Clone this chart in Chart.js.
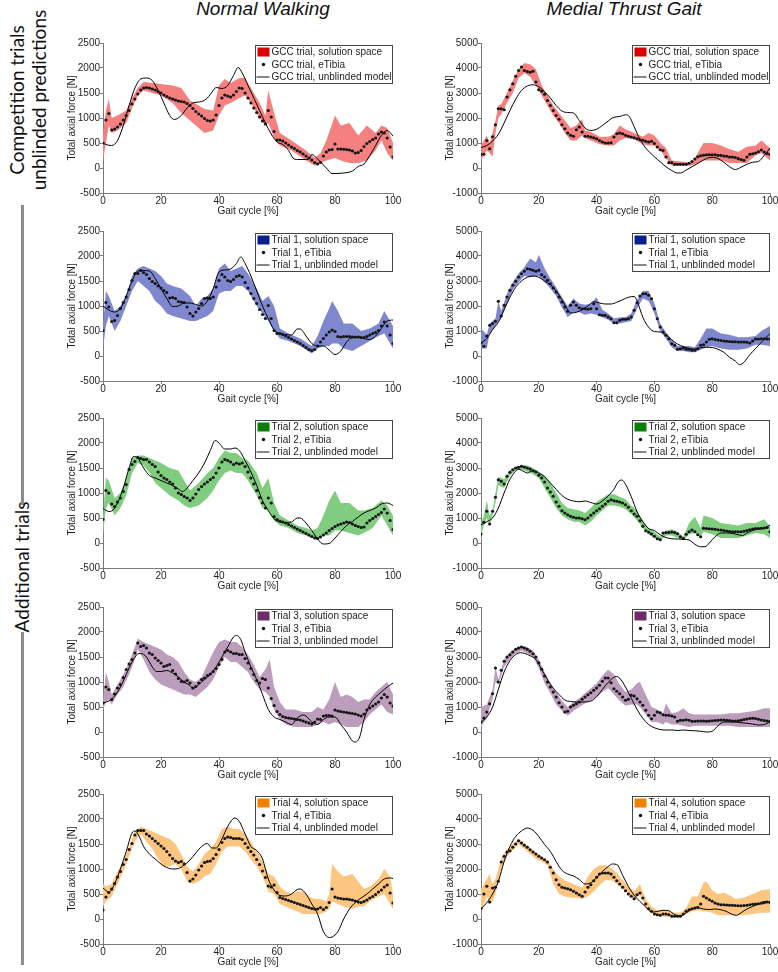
<!DOCTYPE html>
<html lang="en">
<head>
<meta charset="utf-8">
<title>Total axial force - solution spaces</title>
<script src="https://cdn.jsdelivr.net/npm/chart.js@4.4.1/dist/chart.umd.min.js"></script>
<style>
  html, body { margin: 0; padding: 0; background: #fff; }
  body { position: relative; width: 778px; height: 972px; overflow: hidden; }
  canvas.panel { position: absolute; }
  .col-title { position: absolute; top: -2px; transform: translateX(-50%); font: italic 19px "Liberation Sans", Arial, sans-serif; color: #111; white-space: nowrap; }
  .side-label { position: absolute; transform: translate(-50%, -50%) rotate(-90deg); font: 19px Lato, "Open Sans", sans-serif; color: #111; white-space: nowrap; line-height: 22px; text-align: center; }
  .side-rule { position: absolute; left: 21px; width: 3px; background: #8c8c8c; }
</style>
</head>
<body>
<div class="col-title" style="left:263px">Normal Walking</div>
<div class="col-title" style="left:624px">Medial Thrust Gait</div>
<div class="side-label" style="left:28px; top:100px">Competition trials<br>unblinded predictions</div>
<div class="side-rule" style="top:205px; height:300px"></div>
<div class="side-label" style="left:22px; top:567px">Additional trials</div>
<div class="side-rule" style="top:632px; height:333px"></div>
<script>
const FONT = '"Liberation Sans", Arial, sans-serif';

// ticks
const gaitTicks = [0, 20, 40, 60, 80, 100];
const normalTicks = [-500, 0, 500, 1000, 1500, 2000, 2500];
const thrustTicks = [-1000, 0, 1000, 2000, 3000, 4000, 5000];

// eTibia samples are at every percent of the gait cycle
const gaitPct = [0, 1, 2, 3, 4, 5, 6, 7, 8, 9, 10, 11, 12, 13, 14, 15, 16, 17, 18, 19, 20,
  21, 22, 23, 24, 25, 26, 27, 28, 29, 30, 31, 32, 33, 34, 35, 36, 37, 38, 39, 40,
  41, 42, 43, 44, 45, 46, 47, 48, 49, 50, 51, 52, 53, 54, 55, 56, 57, 58, 59, 60,
  61, 62, 63, 64, 65, 66, 67, 68, 69, 70, 71, 72, 73, 74, 75, 76, 77, 78, 79, 80,
  81, 82, 83, 84, 85, 86, 87, 88, 89, 90, 91, 92, 93, 94, 95, 96, 97, 98, 99, 100];

// ---- Normal walking, GCC trial
const nwGccDots = [500, 960, 1090, 760, 780, 820, 880, 960, 1050, 1150,
  1280, 1380, 1480, 1560, 1600, 1610, 1600, 1580, 1560, 1530,
  1500, 1460, 1430, 1400, 1380, 1360, 1340, 1330, 1320, 1290,
  1250, 1190, 1130, 1080, 1040, 990, 950, 940, 960, 1060,
  1250, 1400, 1460, 1440, 1420, 1460, 1530, 1600, 1590, 1500,
  1400, 1300, 1200, 1110, 1020, 940, 880, 1150, 1020, 730,
  560, 560, 540, 500, 460, 420, 390, 350, 320, 280,
  240, 200, 160, 110, 80, 110, 240, 320, 360, 370,
  480, 380, 380, 375, 370, 360, 340, 300, 310, 350,
  430, 490, 530, 570, 600, 680, 720, 700, 600, 420, 220];
const nwGccBandX = [0, 1, 2, 3, 5, 8, 10, 12, 14, 17, 20, 24, 27, 30, 33, 35, 38, 40, 42, 44, 47, 49, 51, 54, 56, 57, 59, 61, 65, 70, 73, 75, 77, 80, 82, 85, 88, 91, 94, 96, 98, 100];
const nwGccBandHi = [700, 1150, 1380, 1000, 1050, 1150, 1400, 1600, 1720, 1700, 1680, 1650, 1600, 1350, 1250, 1180, 1150, 1650, 1780, 1700, 1800, 1800, 1600, 1300, 1050, 1550, 1100, 700, 550, 350, 200, 300, 550, 1050, 850, 900, 650, 850, 700, 850, 800, 500];
const nwGccBandLo = [150, 500, 850, 700, 750, 900, 1200, 1450, 1550, 1500, 1450, 1300, 1100, 950, 800, 700, 750, 1050, 1250, 1300, 1400, 1450, 1300, 1000, 850, 900, 600, 450, 350, 150, 50, 100, 150, 200, 150, 100, 100, 150, 350, 550, 300, 150];
const nwGccModelX = [0, 1, 3, 5, 7, 9, 11, 13, 15, 17, 19, 21, 23, 24.6, 27, 29, 31, 34, 36, 38, 39, 41, 43, 45, 46.6, 48, 50, 52, 54, 56, 58, 60, 62, 64, 65.5, 67, 69, 71, 72, 74, 77, 79, 83, 86, 88, 90, 92, 94, 96, 98, 100];
const nwGccModelY = [500, 470, 450, 550, 850, 1250, 1600, 1780, 1800, 1750, 1550, 1300, 1050, 970, 1050, 1200, 1300, 1330, 1400, 1550, 1610, 1590, 1650, 1850, 2010, 1900, 1650, 1400, 1150, 900, 680, 520, 470, 350, 200, 170, 170, 180, 270, 180, 0, -110, -100, -60, 30, 80, 250, 450, 650, 750, 640];

// ---- Medial thrust, GCC trial
const mtGccDots = [550, 550, 1100, 770, 1250, 1730, 2370, 2370, 2330, 2840,
  3130, 3370, 3670, 3900, 4040, 3900, 3860, 3830, 3870, 3440,
  3130, 3070, 2950, 2700, 2500, 2300, 2100, 1950, 1730, 1570,
  1400, 1310, 1270, 1530, 1640, 1440, 1270, 1270, 1240, 1210,
  1170, 1100, 1040, 1000, 1000, 1010, 1240, 1370, 1400, 1370,
  1310, 1270, 1240, 1210, 1170, 1130, 1110, 1070, 1040, 1070,
  980, 840, 730, 700, 440, 213, 213, 147, 147, 147,
  147, 147, 190, 260, 360, 450, 490, 510, 530, 530,
  530, 530, 507, 507, 480, 470, 440, 440, 420, 373,
  340, 307, 440, 547, 570, 600, 650, 720, 640, 580, 540];
const mtGccBandX = [0, 2, 3, 4, 5, 6, 7, 9, 11, 13, 15, 17, 19, 21, 23, 25, 27, 29, 31, 33, 35, 36, 38, 41, 44, 46, 48, 50, 53, 56, 58, 60, 62, 64, 66, 70, 73, 75, 77, 80, 83, 86, 89, 92, 95, 97, 100];
const mtGccBandHi = [900, 1300, 1000, 1400, 1900, 2500, 2550, 3000, 3500, 3950, 4200, 4150, 3950, 3300, 2900, 2500, 2200, 1900, 1600, 1700, 1950, 1500, 1450, 1250, 1250, 1350, 1700, 1550, 1400, 1250, 1400, 1300, 1000, 800, 300, 250, 200, 600, 1000, 1000, 900, 750, 650, 850, 900, 1100, 800];
const mtGccBandLo = [300, 700, 600, 450, 1400, 2000, 2150, 2600, 3000, 3600, 3800, 3650, 3300, 2900, 2500, 2100, 1800, 1400, 1100, 1100, 1300, 1200, 1100, 950, 900, 900, 1100, 1200, 1150, 950, 900, 900, 700, 400, 100, 100, 100, 200, 300, 300, 300, 200, 200, 200, 500, 600, 300];
const mtGccModelX = [0, 2, 4, 6, 8, 10, 12, 14, 16, 18, 20, 22, 24, 26, 28, 30, 32, 34, 36, 38, 40, 42, 44, 46, 48, 50, 51, 53, 55, 57, 60, 62, 64, 66, 68, 69, 71, 73, 76, 78, 80, 82, 84, 86, 88, 90, 92, 94, 96, 98, 100];
const mtGccModelY = [820, 900, 1080, 1350, 1800, 2300, 2750, 3100, 3280, 3330, 3250, 3050, 2800, 2500, 2280, 2220, 2200, 1900, 1600, 1500, 1550, 1700, 1880, 2030, 2060, 2130, 2100, 1650, 1150, 800, 450, 250, 50, -100, -200, -200, -80, 50, 250, 380, 430, 380, 230, 50, -60, 30, 150, 230, 260, 500, 800];

// ---- Normal walking, Trial 1
const nwT1Dots = [510, 1070, 980, 690, 710, 810, 950, 1070, 1180, 1330,
  1510, 1650, 1650, 1710, 1670, 1630, 1550, 1490, 1450, 1400,
  1360, 1310, 1270, 1160, 1170, 1150, 1090, 1080, 1070, 980,
  850, 800, 880, 950, 1050, 1150, 1160, 1150, 1180, 1380,
  1510, 1630, 1580, 1510, 1490, 1530, 1590, 1610, 1580, 1470,
  1360, 1250, 1150, 1050, 930, 830, 750, 1010, 750, 510,
  450, 450, 430, 400, 370, 340, 310, 280, 250, 210,
  170, 130, 110, 130, 200, 280, 350, 420, 480, 520,
  490, 390, 380, 390, 390, 390, 380, 380, 380, 370,
  370, 390, 420, 450, 470, 510, 600, 680, 600, 420, 250];
const nwT1BandX = [0, 1, 2, 4, 6, 8, 10, 12, 14, 16, 18, 20, 22, 24, 27, 30, 32, 34, 36, 38, 40, 42, 44, 46, 48, 50, 53, 55, 57, 59, 61, 64, 68, 72, 74, 76, 78, 79, 81, 83, 86, 89, 92, 95, 97, 100];
const nwT1BandHi = [600, 1300, 1200, 900, 1000, 1200, 1600, 1750, 1800, 1750, 1700, 1600, 1450, 1400, 1350, 1200, 1000, 1150, 1200, 1350, 1750, 1850, 1700, 1750, 1800, 1650, 1350, 1100, 1200, 1000, 550, 450, 350, 200, 400, 700, 950, 1100, 900, 650, 650, 500, 550, 650, 900, 600];
const nwT1BandLo = [150, 600, 800, 500, 700, 1000, 1300, 1500, 1400, 1300, 1100, 1000, 850, 800, 750, 700, 700, 750, 800, 900, 1250, 1300, 1300, 1400, 1400, 1300, 1000, 850, 700, 500, 350, 300, 200, 50, 150, 200, 200, 250, 250, 150, 100, 200, 300, 400, 450, 150];
const nwT1ModelX = [0, 2, 4, 6, 8, 10, 12, 14, 16, 18, 20, 22, 24, 26, 28, 30, 32, 34, 36, 38, 40, 42, 44, 46, 47.5, 49, 51, 53, 55, 57, 59, 61, 63, 65, 67, 68, 70, 72, 74, 76, 78, 80, 82, 84, 86, 88, 90, 92, 94, 96, 98, 100];
const nwT1ModelY = [1000, 920, 880, 950, 1200, 1500, 1700, 1710, 1700, 1550, 1350, 1150, 990, 1000, 1060, 1060, 1030, 1000, 1100, 1350, 1680, 1720, 1740, 1850, 1980, 1850, 1600, 1300, 1000, 750, 520, 450, 430, 420, 540, 540, 400, 250, 200, 200, 120, 30, 100, 280, 370, 380, 350, 330, 400, 550, 700, 720];

// ---- Medial thrust, Trial 1
const mtT1Dots = [520, 390, 800, 1230, 1300, 1390, 2190, 1600, 2030, 2360,
  2630, 2830, 2990, 3160, 3290, 3390, 3490, 3470, 3430, 3390,
  3430, 3250, 3160, 3030, 2890, 2720, 2560, 2360, 2160, 1960,
  1790, 2030, 2160, 2030, 1930, 1890, 1890, 1870, 1890, 2090,
  1890, 1650, 1630, 1630, 1560, 1490, 1330, 1330, 1430, 1470,
  1470, 1490, 1560, 1830, 2130, 2400, 2490, 2490, 2430, 2290,
  1890, 1490, 1160, 960, 830, 690, 490, 430, 270, 290,
  320, 270, 270, 230, 230, 290, 430, 450, 560, 670,
  690, 660, 640, 620, 600, 590, 580, 570, 570, 560,
  560, 560, 550, 520, 600, 680, 680, 690, 690, 680, 680];
const mtT1BandX = [0, 2, 3, 5, 6, 7, 9, 11, 13, 15, 17, 19, 20, 22, 24, 26, 28, 30, 32, 34, 36, 38, 40, 42, 44, 46, 48, 50, 52, 54, 56, 58, 60, 62, 64, 66, 68, 70, 72, 74, 76, 78, 80, 83, 86, 89, 92, 95, 97, 100];
const mtT1BandHi = [1100, 850, 1300, 1500, 2200, 1800, 2500, 2950, 3300, 3550, 3900, 3750, 4050, 3500, 3100, 2750, 2350, 2000, 2300, 2100, 2050, 2100, 2350, 1850, 1700, 1500, 1550, 1550, 1700, 2250, 2600, 2600, 2100, 1300, 950, 650, 400, 400, 400, 350, 700, 1100, 1100, 900, 850, 750, 750, 800, 1000, 1200];
const mtT1BandLo = [300, 300, 900, 1200, 1400, 1500, 2100, 2650, 2950, 3200, 3150, 3200, 3200, 2950, 2700, 2400, 1950, 1550, 1750, 1750, 1650, 1700, 1650, 1550, 1450, 1300, 1300, 1350, 1400, 1900, 2300, 2200, 1700, 1000, 700, 350, 200, 200, 150, 150, 250, 350, 400, 300, 250, 250, 300, 450, 450, 400];
const mtT1ModelX = [0, 2, 4, 6, 8, 10, 12, 14, 16, 18, 20, 22, 24, 26, 28, 30, 31, 33, 35, 37, 39, 41, 43, 45, 47, 49, 51, 53, 54, 56, 58, 60, 62, 64, 66, 68, 70, 72, 74, 76, 78, 80, 82, 84, 86, 88, 89.5, 91, 93, 95, 97, 100];
const mtT1ModelY = [520, 700, 1050, 1350, 1850, 2350, 2750, 3000, 3150, 3200, 3150, 3000, 2850, 2600, 2250, 1850, 1720, 1750, 1850, 2000, 2170, 2120, 2080, 2080, 2150, 2250, 2350, 2380, 2200, 1550, 1150, 980, 960, 850, 650, 480, 380, 300, 280, 330, 350, 340, 270, 150, -50, -200, -350, -250, 50, 300, 550, 900];

// ---- Normal walking, Trial 2
const nwT2Dots = [470, 1050, 1000, 780, 730, 820, 900, 1030, 1170, 1470,
  1570, 1630, 1710, 1690, 1670, 1670, 1620, 1570, 1530, 1420,
  1350, 1300, 1270, 1220, 1180, 1100, 1000, 970, 930, 900,
  850, 900, 980, 1070, 1130, 1180, 1220, 1270, 1310, 1400,
  1500, 1620, 1670, 1650, 1620, 1570, 1600, 1580, 1600, 1530,
  1420, 1300, 1180, 1050, 910, 800, 700, 900, 800, 530,
  470, 440, 420, 400, 370, 340, 310, 280, 250, 220,
  190, 160, 130, 100, 90, 120, 160, 200, 250, 290,
  330, 360, 380, 400, 420, 410, 380, 350, 330, 310,
  320, 400, 450, 490, 530, 570, 610, 680, 600, 450, 270];
const nwT2BandX = [0, 1, 2, 4, 6, 8, 10, 12, 14, 16, 18, 20, 23, 26, 28, 30, 33, 36, 38, 40, 42, 44, 46, 48, 50, 53, 55, 57, 59, 61, 64, 67, 70, 72, 74, 76, 78, 80, 82, 85, 88, 90, 93, 96, 98, 100];
const nwT2BandHi = [500, 1300, 1250, 900, 1000, 1300, 1700, 1750, 1750, 1700, 1650, 1600, 1500, 1450, 1250, 1050, 1200, 1400, 1500, 1700, 1850, 1800, 1800, 1700, 1650, 1400, 1100, 1300, 800, 550, 450, 350, 300, 250, 300, 550, 850, 1050, 800, 800, 650, 650, 700, 850, 750, 550];
const nwT2BandLo = [150, 700, 800, 550, 700, 950, 1400, 1600, 1550, 1400, 1200, 1100, 950, 850, 750, 700, 750, 900, 1050, 1250, 1400, 1450, 1400, 1400, 1250, 950, 700, 650, 450, 350, 300, 200, 150, 100, 80, 150, 150, 250, 250, 200, 150, 200, 300, 550, 350, 150];
const nwT2ModelX = [0, 2, 3, 5, 7, 9, 10.5, 12, 14, 16, 18, 20, 22, 24, 26, 27.5, 29, 31, 33, 35, 37, 38.7, 40, 42, 44, 45.5, 47, 49, 51, 53, 55, 57, 59, 61, 63, 65, 67, 68, 70, 72, 74, 76, 78, 80, 82, 84, 86, 88, 90, 92, 94, 96, 98, 100];
const nwT2ModelY = [690, 630, 640, 800, 1100, 1500, 1730, 1700, 1500, 1350, 1300, 1250, 1200, 1150, 1080, 1030, 1100, 1250, 1400, 1600, 1850, 2050, 2000, 1880, 1880, 1900, 1850, 1650, 1420, 1150, 850, 650, 480, 420, 410, 420, 500, 500, 400, 250, 80, -20, -10, 100, 230, 350, 430, 520, 600, 650, 700, 780, 800, 750];

// ---- Medial thrust, Trial 2
const mtT2Dots = [360, 830, 1270, 760, 1270, 1830, 2530, 2470, 2360, 2670,
  2830, 2930, 3000, 3030, 3070, 3040, 3000, 2960, 2890, 2840,
  2710, 2600, 2440, 2200, 2040, 1870, 1640, 1470, 1290, 1200,
  1130, 1070, 1030, 1000, 1000, 970, 930, 1000, 1110, 1200,
  1290, 1370, 1470, 1560, 1670, 1730, 1690, 1670, 1640, 1600,
  1530, 1430, 1290, 1160, 1070, 890, 670, 490, 430, 360,
  270, 170, 130, 400, 420, 420, 440, 420, 370, 250,
  180, 350, 450, 520, 450, 330, 250, 590, 580, 570,
  560, 550, 530, 520, 500, 480, 460, 450, 450, 450,
  450, 470, 500, 530, 560, 580, 580, 590, 600, 620, 450];
const mtT2BandX = [0, 1, 2, 3, 4, 5, 6, 8, 10, 12, 14, 16, 18, 20, 22, 24, 26, 28, 30, 32, 34, 36, 38, 40, 42, 44, 46, 48, 50, 52, 54, 56, 58, 60, 62, 64, 66, 68, 70, 72, 74, 76, 77, 80, 83, 86, 89, 92, 95, 98, 100];
const mtT2BandHi = [800, 1100, 1700, 1100, 1300, 2000, 2650, 2550, 2900, 3050, 3100, 3100, 3000, 2850, 2700, 2400, 2000, 1600, 1400, 1350, 1300, 1200, 1400, 1650, 1800, 1950, 1950, 1850, 1750, 1500, 1300, 900, 600, 450, 250, 500, 550, 450, 250, 800, 1050, 600, 1100, 1000, 800, 750, 700, 800, 800, 950, 650];
const mtT2BandLo = [300, 700, 1000, 700, 1100, 1600, 2300, 2200, 2700, 2900, 2950, 2850, 2750, 2600, 2200, 1800, 1400, 1100, 950, 850, 850, 700, 850, 1100, 1300, 1500, 1500, 1450, 1350, 1150, 900, 600, 350, 200, 100, 300, 300, 200, 100, 350, 400, 250, 450, 350, 200, 200, 200, 300, 400, 350, 200];
const mtT2ModelX = [0, 2, 4, 6, 8, 10, 12, 13, 15, 16, 18, 20, 22, 24, 26, 28, 30, 32, 34, 36, 38, 40, 42, 44, 46, 47.5, 48.7, 50, 52, 54, 56, 58, 60, 62, 64, 66, 68, 70, 72, 74, 76, 77.5, 79, 81, 83, 85, 87, 89, 90.5, 92, 94, 96, 98, 100];
const mtT2ModelY = [730, 850, 1000, 1400, 2000, 2550, 2870, 2950, 2850, 2800, 2900, 2800, 2650, 2400, 2150, 1900, 1750, 1680, 1650, 1680, 1620, 1560, 1680, 1880, 2150, 2450, 2520, 2350, 1850, 1250, 850, 580, 500, 330, 220, 170, 160, 150, 120, -50, -150, -150, 0, 250, 400, 400, 380, 330, 300, 400, 500, 560, 600, 720];

// ---- Normal walking, Trial 3
const nwT3Dots = [580, 900, 850, 650, 760, 880, 950, 1090, 1250, 1360,
  1450, 1580, 1780, 1710, 1730, 1680, 1580, 1550, 1480, 1430,
  1380, 1310, 1330, 1350, 1230, 1160, 1070, 1010, 1000, 1030,
  980, 880, 910, 980, 1050, 1080, 1130, 1160, 1210, 1270,
  1350, 1450, 1600, 1630, 1600, 1570, 1570, 1550, 1550, 1470,
  1380, 1270, 1150, 1030, 980, 1070, 1050, 880, 670, 530,
  410, 350, 310, 290, 280, 270, 260, 250, 240, 220,
  200, 180, 160, 200, 260, 250, 320, 330, 330, 320,
  440, 420, 410, 400, 390, 380, 370, 360, 340, 320,
  360, 440, 480, 520, 560, 600, 680, 750, 700, 580, 520];
const nwT3BandX = [0, 1, 2, 3, 5, 7, 9, 11, 12, 14, 16, 18, 20, 22, 24, 26, 28, 30, 32, 34, 36, 38, 40, 42, 44, 46, 48, 50, 52, 54, 56, 57.5, 59, 61, 63, 66, 69, 72, 74, 76, 78, 80, 82, 84, 86, 88, 90, 92, 94, 96, 98, 100];
const nwT3BandHi = [600, 1200, 1000, 750, 950, 1150, 1400, 1700, 1870, 1800, 1750, 1700, 1650, 1550, 1500, 1400, 1200, 1050, 1000, 1100, 1350, 1600, 1800, 1850, 1800, 1800, 1700, 1550, 1350, 1100, 1250, 1450, 900, 600, 450, 450, 400, 400, 500, 450, 650, 1000, 700, 750, 700, 600, 650, 650, 800, 900, 1000, 750];
const nwT3BandLo = [450, 600, 650, 550, 750, 900, 1150, 1450, 1650, 1450, 1200, 1050, 950, 900, 850, 800, 750, 750, 700, 800, 900, 1050, 1300, 1500, 1400, 1400, 1300, 1200, 1000, 850, 800, 700, 450, 250, 150, 100, 100, 100, 150, 200, 150, 200, 150, 100, 100, 100, 200, 350, 450, 550, 400, 350];
const nwT3ModelX = [0, 2, 4, 6, 8, 10, 12, 13, 15, 17, 18.5, 20, 22, 24, 26, 28, 30, 31, 33, 35, 37, 39, 41, 43, 45, 46, 47.5, 49, 51, 53, 55, 57, 59, 61, 63, 65, 67, 69, 70, 72, 74, 76, 78, 80, 82, 84, 86, 87, 88.5, 90, 92, 94, 96, 98, 100];
const nwT3ModelY = [580, 620, 720, 900, 1150, 1400, 1560, 1570, 1500, 1300, 1210, 1210, 1230, 1180, 1100, 1000, 930, 870, 950, 1050, 1150, 1300, 1500, 1700, 1900, 1930, 1850, 1600, 1300, 1050, 750, 450, 300, 250, 200, 150, 280, 340, 320, 200, 150, 250, 300, 300, 150, 0, -180, -200, -100, 250, 550, 700, 800, 900, 980];

// ---- Medial thrust, Trial 3
const mtT3Dots = [400, 560, 800, 1130, 1530, 2560, 2000, 2470, 2830, 3000,
  3090, 3200, 3310, 3360, 3400, 3360, 3310, 3230, 3130, 3000,
  2770, 2510, 2240, 2000, 1800, 1600, 1400, 1170, 1000, 800,
  830, 1000, 1070, 1130, 1200, 1310, 1400, 1490, 1570, 1670,
  1760, 1870, 2030, 2160, 2160, 1970, 1730, 1630, 1530, 1400,
  1270, 1310, 1470, 1440, 1330, 1200, 1070, 870, 670, 530,
  670, 800, 770, 690, 670, 670, 640, 600, 430, 470,
  470, 490, 470, 430, 430, 440, 440, 440, 430, 440,
  450, 460, 470, 480, 480, 470, 460, 440, 440, 450,
  470, 500, 520, 540, 550, 540, 510, 480, 460, 440, 430];
const mtT3BandX = [0, 2, 4, 5, 6, 8, 10, 12, 14, 16, 18, 20, 22, 24, 26, 28, 30, 32, 34, 36, 38, 40, 42, 44, 46, 48, 50, 52, 54, 55, 57, 59, 61, 63, 64, 66, 68, 70, 72, 74, 76, 78, 80, 83, 86, 89, 92, 95, 98, 100];
const mtT3BandHi = [1000, 1100, 1700, 2600, 2100, 2900, 3200, 3350, 3450, 3400, 3250, 2900, 2400, 1950, 1600, 1250, 1000, 1200, 1350, 1550, 1750, 1950, 2250, 2500, 2300, 1900, 1600, 1700, 1950, 2000, 1500, 1000, 900, 750, 1150, 750, 800, 950, 750, 700, 700, 700, 700, 700, 750, 750, 800, 850, 950, 950];
const mtT3BandLo = [200, 550, 1300, 2000, 1900, 2600, 2900, 3150, 3250, 3150, 3000, 2550, 1950, 1550, 1100, 850, 650, 850, 1000, 1150, 1250, 1400, 1600, 1750, 1500, 1250, 1050, 1100, 1100, 1000, 700, 400, 400, 300, 400, 300, 300, 250, 200, 250, 250, 250, 250, 250, 250, 200, 200, 200, 200, 200];
const mtT3ModelX = [0, 2, 4, 6, 8, 10, 12, 13.6, 15, 17, 19, 21, 23, 25, 27, 29, 31, 33, 35, 37, 39, 41, 43, 45, 46.8, 48, 50, 52, 54, 56, 58, 60, 62, 64, 66, 68, 70, 72, 74, 76, 78, 80, 82, 84, 86, 88, 90, 92, 94, 96, 98, 100];
const mtT3ModelY = [400, 600, 1000, 1700, 2400, 2850, 3100, 3170, 3150, 3050, 2900, 2500, 2100, 1750, 1500, 1280, 1220, 1200, 1200, 1210, 1300, 1550, 1850, 2100, 2220, 2150, 1800, 1350, 900, 550, 300, 170, 100, 80, 80, 60, 80, 60, 50, 30, 0, 30, 250, 400, 400, 400, 370, 350, 320, 280, 300, 400];

// ---- Normal walking, Trial 4
const nwT4Dots = [180, 440, 530, 600, 710, 840, 950, 1090, 1190, 1390,
  1510, 1680, 1770, 1770, 1770, 1700, 1660, 1610, 1560, 1510,
  1460, 1410, 1350, 1280, 1210, 1160, 1130, 1150, 1100, 930,
  760, 800, 880, 980, 1060, 1130, 1150, 1160, 1210, 1290,
  1390, 1530, 1610, 1640, 1630, 1610, 1610, 1610, 1590, 1510,
  1430, 1350, 1280, 1190, 1090, 960, 830, 660, 640, 680,
  530, 430, 410, 390, 370, 350, 330, 310, 290, 270,
  250, 230, 210, 200, 200, 230, 190, 230, 330, 600,
  440, 420, 410, 400, 400, 390, 380, 360, 340, 330,
  350, 380, 420, 450, 490, 540, 580, 640, 680, 520, 320];
const nwT4BandX = [0, 1, 3, 5, 7, 9, 11, 13, 15, 17, 19, 21, 23, 25, 27, 29, 31, 33, 35, 37, 39, 41, 43, 45, 47, 49, 51, 53, 55, 57, 59, 61, 63, 65, 67, 69, 71, 73, 75, 77, 78, 79, 81, 83, 86, 88, 90, 92, 95, 97, 99, 100];
const nwT4BandHi = [700, 650, 700, 950, 1150, 1450, 1750, 1850, 1800, 1750, 1700, 1650, 1600, 1500, 1300, 1050, 950, 1100, 1300, 1400, 1550, 1800, 1850, 1800, 1800, 1700, 1550, 1350, 1150, 900, 850, 650, 550, 500, 550, 550, 450, 400, 400, 350, 500, 1100, 950, 850, 900, 750, 600, 650, 800, 1000, 850, 500];
const nwT4BandLo = [250, 350, 450, 700, 950, 1250, 1550, 1700, 1550, 1400, 1200, 1050, 1050, 1100, 1000, 750, 700, 750, 850, 900, 1100, 1350, 1450, 1450, 1450, 1350, 1200, 1050, 850, 550, 500, 300, 250, 200, 150, 100, 100, 100, 100, 150, 200, 350, 300, 250, 200, 250, 250, 350, 450, 500, 300, 200];
const nwT4ModelX = [0, 2, 4, 6, 8, 10, 11, 12.5, 14, 16, 18, 20, 22, 24, 26, 28, 30, 32, 34, 36, 37.5, 39, 41, 43, 45.5, 47, 49, 51, 53, 55, 57, 59, 61, 63, 65, 67, 68, 70, 72, 74, 76, 78, 79, 81, 83, 85, 87, 89, 91, 93, 95, 97, 99, 100];
const nwT4ModelY = [620, 540, 700, 1000, 1350, 1720, 1760, 1650, 1450, 1300, 1200, 1100, 1030, 1000, 1010, 1080, 1180, 1320, 1450, 1510, 1420, 1420, 1600, 1850, 2020, 1950, 1700, 1450, 1370, 1200, 800, 580, 470, 460, 500, 590, 600, 500, 300, 100, -250, -370, -360, -250, 0, 200, 330, 420, 500, 600, 700, 800, 820, 810];

// ---- Medial thrust, Trial 4
const mtT4Dots = [410, 1000, 1310, 680, 1240, 1270, 1510, 2280, 2510, 2680,
  2730, 2870, 3000, 3130, 3040, 2950, 2870, 2770, 2680, 2600,
  2510, 2440, 2370, 2280, 2070, 1840, 1570, 1370, 1270, 1240,
  1210, 1170, 1110, 1040, 970, 910, 1080, 1270, 1370, 1530,
  1670, 1800, 1840, 1840, 1840, 1800, 1670, 1530, 1400, 1270,
  1130, 1000, 910, 810, 970, 1040, 840, 600, 410, 310,
  200, 170, 150, 200, 200, 170, 110, 110, 110, 110,
  200, 310, 370, 410, 440, 470, 600, 910, 840, 770,
  710, 640, 600, 570, 570, 560, 550, 550, 540, 530,
  530, 540, 550, 570, 590, 600, 610, 630, 650, 680, 660];
const mtT4BandX = [0, 2, 3, 4, 5, 7, 9, 11, 13, 15, 17, 19, 21, 23, 25, 27, 29, 31, 33, 35, 37, 39, 41, 43, 45, 47, 49, 51, 53, 55, 57, 59, 61, 63, 65, 67, 69, 71, 73, 75, 77, 78, 80, 82, 84, 86, 88, 91, 94, 97, 100];
const mtT4BandHi = [1200, 1600, 1800, 1400, 1600, 2400, 2800, 3000, 3200, 3050, 2850, 2650, 2500, 2350, 2000, 1700, 1550, 1450, 1350, 1250, 1700, 2000, 2150, 2150, 2050, 1850, 1550, 1300, 1100, 1400, 800, 500, 350, 350, 300, 250, 250, 450, 900, 900, 1450, 1500, 1150, 1000, 1050, 950, 800, 850, 1000, 1150, 1200];
const mtT4BandLo = [300, 900, 600, 700, 1000, 2000, 2500, 2750, 3000, 2800, 2600, 2400, 2300, 2150, 1400, 1000, 900, 850, 850, 800, 900, 1100, 1350, 1550, 1550, 1400, 1200, 1000, 800, 950, 500, 250, 150, 100, 100, 100, 100, 200, 300, 350, 300, 300, 250, 150, 150, 150, 150, 150, 200, 250, 250];
const mtT4ModelX = [0, 2, 4, 6, 8, 10, 12, 14, 16, 18, 20, 22, 24, 26, 28, 30, 32, 34, 36, 38, 40, 42, 44, 45.5, 47, 49, 51, 53, 55, 57, 59, 61, 63, 65, 67, 69, 71, 73, 75, 77, 79, 81, 83, 85, 87, 88.5, 90, 92, 94, 96, 98, 100];
const mtT4ModelY = [410, 650, 1000, 1500, 2300, 2900, 3300, 3520, 3640, 3550, 3300, 2980, 2700, 2300, 1950, 1800, 1720, 1580, 1400, 1450, 1650, 1900, 2100, 2200, 2180, 1750, 1300, 950, 700, 480, 280, 300, 350, 330, 180, 120, 250, 400, 450, 400, 380, 400, 370, 300, 180, 150, 250, 400, 500, 600, 700, 680];

// layout of the 5 x 2 grid (pixels)
const ROW_TOPS = [43, 231, 418, 607, 794];
const AXIS_X = [103, 481];
const PLOT_W = [290, 289];
const PLOT_H = 150;
const Y_AXIS_W = 60;
const X_AXIS_H = 24;
const PAD_TOP = 6;
const PAD_RIGHT = 10;
const AXIS_COLOR = '#7a7a7a';
const TEXT_COLOR = '#1e1e1e';

const panels = [
  { row: 0, col: 0, name: 'GCC trial', swatch: '#dd0000', band: '#f48080', dots: nwGccDots, bandX: nwGccBandX, bandHi: nwGccBandHi, bandLo: nwGccBandLo, modelX: nwGccModelX, modelY: nwGccModelY },
  { row: 0, col: 1, name: 'GCC trial', swatch: '#dd0000', band: '#f48080', dots: mtGccDots, bandX: mtGccBandX, bandHi: mtGccBandHi, bandLo: mtGccBandLo, modelX: mtGccModelX, modelY: mtGccModelY },
  { row: 1, col: 0, name: 'Trial 1', swatch: '#0a1f8f', band: '#7f88cf', dots: nwT1Dots, bandX: nwT1BandX, bandHi: nwT1BandHi, bandLo: nwT1BandLo, modelX: nwT1ModelX, modelY: nwT1ModelY },
  { row: 1, col: 1, name: 'Trial 1', swatch: '#0a1f8f', band: '#7f88cf', dots: mtT1Dots, bandX: mtT1BandX, bandHi: mtT1BandHi, bandLo: mtT1BandLo, modelX: mtT1ModelX, modelY: mtT1ModelY },
  { row: 2, col: 0, name: 'Trial 2', swatch: '#0a7d0a', band: '#80cd80', dots: nwT2Dots, bandX: nwT2BandX, bandHi: nwT2BandHi, bandLo: nwT2BandLo, modelX: nwT2ModelX, modelY: nwT2ModelY },
  { row: 2, col: 1, name: 'Trial 2', swatch: '#0a7d0a', band: '#80cd80', dots: mtT2Dots, bandX: mtT2BandX, bandHi: mtT2BandHi, bandLo: mtT2BandLo, modelX: mtT2ModelX, modelY: mtT2ModelY },
  { row: 3, col: 0, name: 'Trial 3', swatch: '#6e2c68', band: '#bc9ebc', dots: nwT3Dots, bandX: nwT3BandX, bandHi: nwT3BandHi, bandLo: nwT3BandLo, modelX: nwT3ModelX, modelY: nwT3ModelY },
  { row: 3, col: 1, name: 'Trial 3', swatch: '#6e2c68', band: '#bc9ebc', dots: mtT3Dots, bandX: mtT3BandX, bandHi: mtT3BandHi, bandLo: mtT3BandLo, modelX: mtT3ModelX, modelY: mtT3ModelY },
  { row: 4, col: 0, name: 'Trial 4', swatch: '#f08200', band: '#fdc680', dots: nwT4Dots, bandX: nwT4BandX, bandHi: nwT4BandHi, bandLo: nwT4BandLo, modelX: nwT4ModelX, modelY: nwT4ModelY },
  { row: 4, col: 1, name: 'Trial 4', swatch: '#f08200', band: '#fdc680', dots: mtT4Dots, bandX: mtT4BandX, bandHi: mtT4BandHi, bandLo: mtT4BandLo, modelX: mtT4ModelX, modelY: mtT4ModelY }
];

// legend box drawn inside the plot, top right, like the matlab one
const panelLegend = {
  id: 'panelLegend',
  afterDraw(chart, args, opts) {
    const { ctx, chartArea } = chart;
    const w = 137, h = 38;
    const x0 = Math.round(chartArea.right - w - 1) + 0.5;
    const y0 = Math.round(chartArea.top + 2) + 0.5;
    const rows = [y0 + 6.5, y0 + 19, y0 + 31.5];

    ctx.save();
    ctx.fillStyle = '#fff';
    ctx.fillRect(x0, y0, w, h);
    ctx.strokeStyle = '#444';
    ctx.lineWidth = 1;
    ctx.strokeRect(x0, y0, w, h);

    ctx.fillStyle = opts.swatch;
    ctx.fillRect(x0 + 2, rows[0] - 4.5, 12, 9);

    ctx.fillStyle = '#111';
    ctx.beginPath();
    ctx.arc(x0 + 8, rows[1], 1.7, 0, Math.PI * 2);
    ctx.fill();

    ctx.strokeStyle = '#111';
    ctx.beginPath();
    ctx.moveTo(x0 + 1, rows[2]);
    ctx.lineTo(x0 + 14, rows[2]);
    ctx.stroke();

    ctx.font = '10px ' + FONT;
    ctx.textBaseline = 'middle';
    ctx.fillStyle = TEXT_COLOR;
    opts.labels.forEach((t, i) => ctx.fillText(t, x0 + 16, rows[i] + 0.5));
    ctx.restore();
  }
};

function toPoints(xs, ys) {
  return xs.map((x, i) => ({ x: x, y: ys[i] }));
}

function buildPanel(p) {
  const thrust = p.col === 1;
  const yTicks = thrust ? thrustTicks : normalTicks;
  const width = Y_AXIS_W + PLOT_W[p.col] + PAD_RIGHT;
  const height = PAD_TOP + PLOT_H + X_AXIS_H;

  const canvas = document.createElement('canvas');
  canvas.className = 'panel';
  canvas.width = width;
  canvas.height = height;
  canvas.style.width = width + 'px';
  canvas.style.height = height + 'px';
  canvas.style.left = (AXIS_X[p.col] - Y_AXIS_W) + 'px';
  canvas.style.top = (ROW_TOPS[p.row] - PAD_TOP) + 'px';
  document.body.appendChild(canvas);

  const font = { family: FONT, size: 10 };

  new Chart(canvas, {
    type: 'line',
    data: {
      datasets: [
        { data: toPoints(p.bandX, p.bandHi), fill: '+1', backgroundColor: p.band, borderColor: 'transparent', borderWidth: 0, pointRadius: 0, tension: 0, order: 3 },
        { data: toPoints(p.bandX, p.bandLo), fill: false, borderColor: 'transparent', borderWidth: 0, pointRadius: 0, tension: 0, order: 3 },
        { data: toPoints(p.modelX, p.modelY), fill: false, borderColor: '#000', borderWidth: 1, pointRadius: 0, cubicInterpolationMode: 'monotone', order: 2 },
        { data: toPoints(gaitPct, p.dots), showLine: false, pointRadius: 1.6, pointBackgroundColor: '#151515', pointBorderWidth: 0, order: 1 }
      ]
    },
    options: {
      responsive: false,
      animation: false,
      devicePixelRatio: 1,
      layout: { padding: { top: PAD_TOP, right: PAD_RIGHT, left: 0, bottom: 0 } },
      plugins: {
        legend: { display: false },
        tooltip: { enabled: false },
        panelLegend: {
          swatch: p.swatch,
          labels: [p.name + ', solution space', p.name + ', eTibia', p.name + ', unblinded model']
        }
      },
      scales: {
        x: {
          type: 'linear',
          min: 0,
          max: 100,
          afterBuildTicks: s => { s.ticks = gaitTicks.map(v => ({ value: v })); },
          ticks: { font: font, color: TEXT_COLOR, padding: -1, maxRotation: 0, autoSkip: false, callback: v => String(v) },
          grid: { drawOnChartArea: false, drawTicks: true, tickLength: 3, color: AXIS_COLOR },
          border: { color: AXIS_COLOR },
          title: { display: true, text: 'Gait cycle [%]', font: font, color: TEXT_COLOR, padding: { top: 0, bottom: 0 } },
          afterFit: s => { s.height = X_AXIS_H; }
        },
        y: {
          type: 'linear',
          min: yTicks[0],
          max: yTicks[yTicks.length - 1],
          afterBuildTicks: s => { s.ticks = yTicks.map(v => ({ value: v })); },
          ticks: { font: font, color: TEXT_COLOR, padding: 0, callback: v => String(v) },
          grid: { drawOnChartArea: false, drawTicks: true, tickLength: 3, color: AXIS_COLOR },
          border: { color: AXIS_COLOR },
          title: { display: true, text: 'Total axial force [N]', font: font, color: TEXT_COLOR, padding: { top: 23, bottom: 0 } },
          afterFit: s => { s.width = Y_AXIS_W; }
        }
      }
    },
    plugins: [panelLegend]
  });
}

panels.forEach(buildPanel);
</script>
</body>
</html>
